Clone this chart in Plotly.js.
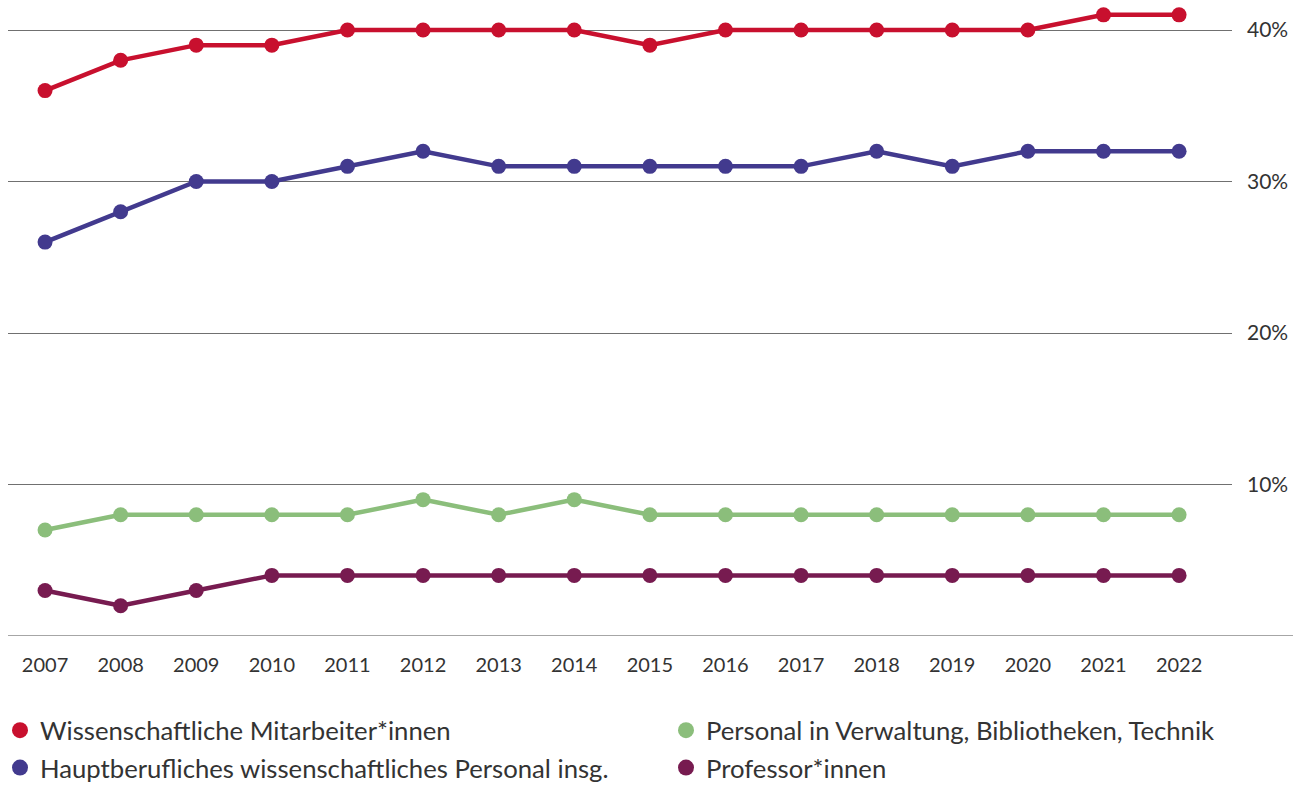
<!DOCTYPE html>
<html>
<head>
<meta charset="utf-8">
<script src="https://cdn.plot.ly/plotly-3.0.1.min.js"></script>
<style>html,body{margin:0;padding:0;background:#fff;}#chart{width:1306px;height:785px;}</style>
</head>
<body>
<div id="chart"></div>
<script>
const years = [2007,2008,2009,2010,2011,2012,2013,2014,2015,2016,2017,2018,2019,2020,2021,2022];
const wissMitarbeiter = [36,38,39,39,40,40,40,40,39,40,40,40,40,40,41,41];
const hauptberuflich = [26,28,30,30,31,32,31,31,31,31,31,32,31,32,32,32];
const verwaltung = [7,8,8,8,8,9,8,9,8,8,8,8,8,8,8,8];
const professoren = [3,2,3,4,4,4,4,4,4,4,4,4,4,4,4,4];
const seriesNames = [
  "Wissenschaftliche Mitarbeiter*innen",
  "Hauptberufliches wissenschaftliches Personal insg.",
  "Personal in Verwaltung, Bibliotheken, Technik",
  "Professor*innen"
];
const yTicks = [10,20,30,40];
const yTickLabels = ["10%","20%","30%","40%"];

const colors = ["#C8102E", "#423A8E", "#8BBE7B", "#771B50"];
const seriesData = [wissMitarbeiter, hauptberuflich, verwaltung, professoren];
const legendIds = ["legend", "legend", "legend2", "legend2"];

const traces = [];
seriesData.forEach((vals, i) => {
  traces.push({
    x: years, y: vals, type: "scatter", mode: "lines+markers",
    line: {color: colors[i], width: 4.5},
    marker: {color: colors[i], size: 15},
    showlegend: false, cliponaxis: false
  });
});
seriesData.forEach((vals, i) => {
  traces.push({
    x: [null], y: [null], type: "scatter", mode: "markers",
    name: seriesNames[i],
    marker: {color: colors[i], size: 18},
    showlegend: true, legend: legendIds[i], legendgroup: "g" + i
  });
});

const W = 1306, H = 785;
const plotLeft = 8, plotRight = 1232, plotTop = 0, plotBottom = 636;

const legendCommon = {
  orientation: "v", xanchor: "left", yanchor: "top",
  xref: "container", yref: "container",
  font: {size: 25.7, color: "#333", family: "Lato, sans-serif"},
  itemsizing: "trace", tracegroupgap: 1,
  bgcolor: "rgba(0,0,0,0)"
};

const layout = {
  width: W, height: H,
  margin: {l: plotLeft, r: W - plotRight, t: plotTop, b: H - plotBottom, autoexpand: false},
  paper_bgcolor: "#fff", plot_bgcolor: "#fff",
  font: {family: "Lato, 'Open Sans', sans-serif", color: "#333"},
  showlegend: true,
  xaxis: {
    range: [2006.51, 2022.70],
    tickvals: years, ticktext: years.map(String),
    showgrid: false, zeroline: false, showline: false, ticks: "",
    tickfont: {size: 20, color: "#333"}, tickangle: 0,
    ticklabelstandoff: 15, fixedrange: true
  },
  yaxis: {
    side: "right",
    range: [0, 41.98],
    tickvals: yTicks, ticktext: yTickLabels,
    showgrid: true, gridcolor: "#707070", gridwidth: 1,
    zeroline: false, showline: false, ticks: "",
    tickfont: {size: 21, color: "#333"},
    ticklabelstandoff: 14, fixedrange: true
  },
  shapes: [{
    type: "line", xref: "paper", yref: "y",
    x0: 0, x1: (1293 - plotLeft) / (plotRight - plotLeft), y0: 0, y1: 0,
    line: {color: "#888", width: 1.5}, layer: "below"
  }],
  legend: Object.assign({}, legendCommon, {x: 0, y: 1 - 707 / H}),
  legend2: Object.assign({}, legendCommon, {x: 666 / W, y: 1 - 707 / H})
};

Plotly.newPlot("chart", traces, layout, {displayModeBar: false, staticPlot: true});
</script>
</body>
</html>
